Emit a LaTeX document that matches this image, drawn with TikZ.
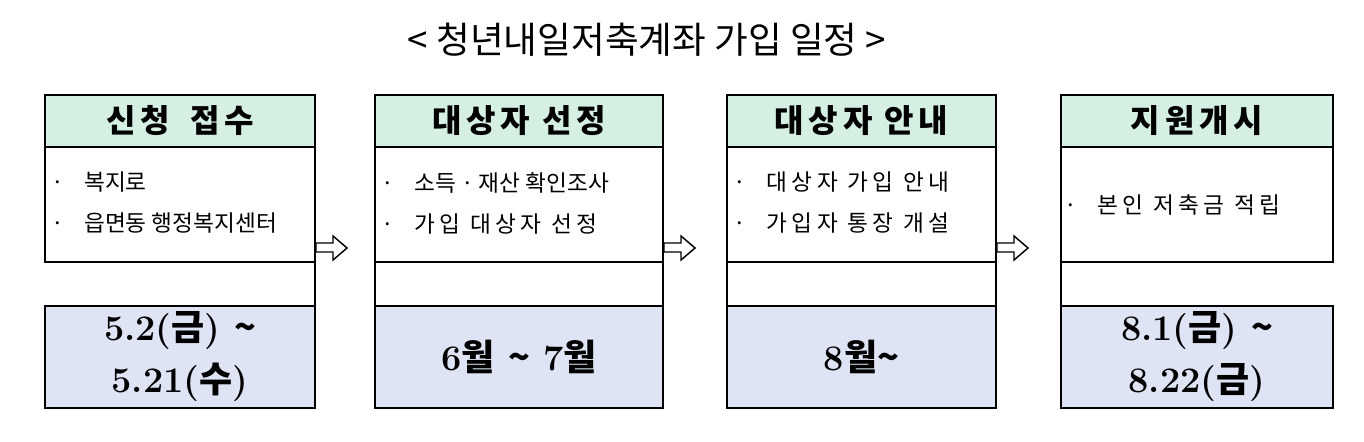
\documentclass[tikz,border=0pt]{standalone}
\usepackage{fontspec}
\usepackage{tikz}
\usetikzlibrary{calc}
\newfontfamily\kr{Noto Sans CJK KR}
\newfontfamily\krhead{Noto Sans CJK KR}[LetterSpace=15]
\newfontfamily\krwide{Noto Sans CJK KR}[LetterSpace=20]
\definecolor{headgreen}{RGB}{213,239,226}
\definecolor{dateblue}{RGB}{223,228,245}
\newcommand{\hb}[1]{{\kr\bfseries #1}}
\newcommand{\itemdot}{\makebox[19.5pt][c]{\kr ·}\hspace{9.75pt}}

\begin{document}
\begin{tikzpicture}[x=0.75pt,y=-0.75pt,
    head/.style={draw,line width=1.5pt,fill=headgreen,minimum height=39pt,inner sep=0pt,outer sep=0pt,font=\krhead\bfseries\fontsize{24}{28}\selectfont},
    body/.style={draw,line width=1.5pt,minimum height=86.25pt,inner sep=0pt,outer sep=0pt},
    date/.style={draw,line width=1.5pt,fill=dateblue,minimum height=76.5pt,inner sep=0pt,outer sep=0pt,align=center,font=\bfseries\fontsize{27}{39}\selectfont},
    item/.style={anchor=west,align=left,inner sep=0pt,font=\kr\fontsize{17}{30.75}\selectfont},
    hollow/.style={draw,line width=1.1pt,fill=white,line join=miter}]
    \useasboundingbox (0,0) rectangle (1364,442);

    \node[font=\kr\fontsize{27.5}{32}\selectfont] (title) at (647,40) {< 청년내일저축계좌 가입 일정 >};

    \node[head,minimum width=202.5pt] (h1) at (180,121) {신청\hspace{6pt} 접수};
    \node[head,minimum width=216pt] (h2) at (519,121) {대상자 선정};
    \node[head,minimum width=201.75pt] (h3) at (861.5,121) {대상자 안내};
    \node[head,minimum width=204pt] (h4) at (1197,121) {지원개시};

    \node[body,minimum width=202.5pt] (b1) at (180,204.5) {};
    \node[body,minimum width=216pt] (b2) at (519,204.5) {};
    \node[body,minimum width=201.75pt] (b3) at (861.5,204.5) {};
    \node[body,minimum width=204pt] (b4) at (1197,204.5) {};

    \node[item] (t1) at (45,203) {\itemdot 복지로\\\itemdot 읍면동 행정복지센터};
    \node[item] (t2) at (375,203) {\itemdot 소득 · 재산 확인조사\\\itemdot {\krwide 가입 대상자 선정}};
    \node[item] (t3) at (727,203) {\itemdot {\krwide 대상자 가입 안내}\\\itemdot {\krwide 가입자 통장 개설}};
    \node[item] (t4) at (1058,204.5) {\itemdot {\krwide 본인 저축금 적립}};

    \node[date,minimum width=202.5pt] (d1) at (180,357) {5.2(\hb{금}) \hb{\textasciitilde}\\5.21(\hb{수})};
    \node[date,minimum width=216pt] (d2) at (519,357) {6\hb{월} \hb{\textasciitilde} 7\hb{월}};
    \node[date,minimum width=201.75pt] (d3) at (861.5,357) {8\hb{월}\hb{\textasciitilde}};
    \node[date,minimum width=204pt] (d4) at (1197,357) {8.1(\hb{금}) \hb{\textasciitilde}\\8.22(\hb{금})};

    % side lines between the rows
    \path[every edge/.style={draw,line width=1.5pt}]
    (b1.south east) edge (d1.north east)
    (b2.south west) edge (d2.north west)
    (b2.south east) edge (d2.north east)
    (b3.south west) edge (d3.north west)
    (b3.south east) edge (d3.north east)
    (b4.south west) edge (d4.north west);

    % hollow arrows
    \draw[hollow] ($(b1.south east)+(1,-19)$) -- ++(17,0) -- ++(0,-7) -- ++(14,12) -- ++(-14,12) -- ++(0,-8) -- ++(-17,0) -- cycle;
    \draw[hollow] ($(b2.south east)+(1,-19)$) -- ++(17,0) -- ++(0,-7) -- ++(14,12) -- ++(-14,12) -- ++(0,-8) -- ++(-17,0) -- cycle;
    \draw[hollow] ($(b3.south east)+(1,-19)$) -- ++(17,0) -- ++(0,-7) -- ++(14,12) -- ++(-14,12) -- ++(0,-8) -- ++(-17,0) -- cycle;
\end{tikzpicture}
\end{document}
